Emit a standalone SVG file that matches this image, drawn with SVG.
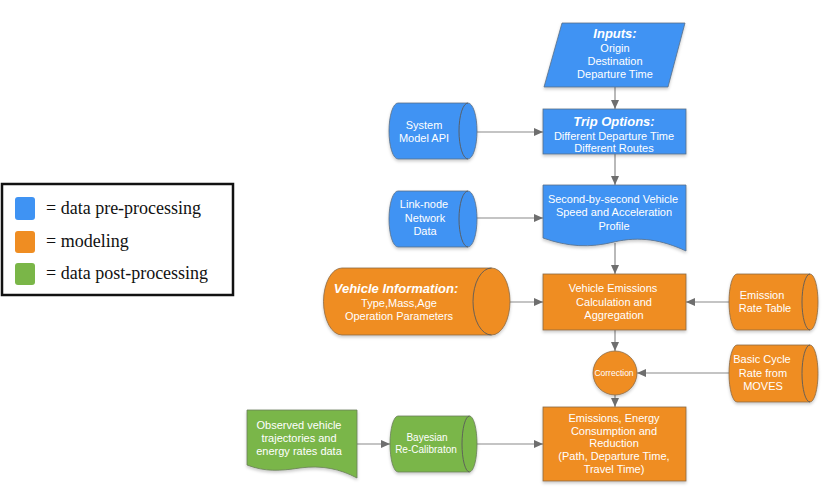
<svg xmlns="http://www.w3.org/2000/svg" width="840" height="503" viewBox="0 0 840 503">
<defs>
<style>
.blue{fill:#3f93f3;stroke:#5b6f85;stroke-width:0.8}
.orange{fill:#ef8d22;stroke:#8a6a45;stroke-width:0.8}
.green{fill:#7ab648;stroke:#6a7d5a;stroke-width:0.8}
.cap{fill:none;stroke:#5a5a5a;stroke-width:0.9}
.t{font-family:"Liberation Sans",Arial,sans-serif;font-size:11px;fill:#ffffff;text-anchor:middle}
.h{font-family:"Liberation Sans",Arial,sans-serif;font-size:13px;font-weight:bold;font-style:italic;fill:#ffffff;text-anchor:middle}
.s{font-size:10px}
.xs{font-size:8.5px}
.conn{stroke:#8a8a8a;stroke-width:1.2;fill:none;marker-end:url(#arr)}
.lg{font-family:"Liberation Serif","Times New Roman",serif;font-size:18px;fill:#111111}
</style>
<marker id="arr" markerUnits="userSpaceOnUse" markerWidth="9" markerHeight="8" refX="9" refY="4" orient="auto">
<path d="M0,0 L9,4 L0,8 Z" fill="#6e6e6e"/>
</marker>
<filter id="sh" x="-10%" y="-10%" width="120%" height="130%">
<feDropShadow dx="0" dy="2" stdDeviation="1.8" flood-color="#000000" flood-opacity="0.2"/>
</filter>
</defs>

<g id="legend">
<rect x="2" y="184" width="231" height="111" fill="#ffffff" stroke="#111111" stroke-width="2.5"/>
<rect x="15" y="197" width="20" height="23" rx="3" fill="#3f93f3"/>
<rect x="15" y="231" width="20" height="22" rx="3" fill="#ef8d22"/>
<rect x="15" y="263" width="20" height="22" rx="3" fill="#7ab648"/>
<text class="lg" x="46" y="214">= data pre-processing</text>
<text class="lg" x="46" y="247">= modeling</text>
<text class="lg" x="46" y="279">= data post-processing</text>
</g>

<g id="connectors">
<line class="conn" x1="615" y1="87" x2="615" y2="109"/>
<line class="conn" x1="615" y1="154" x2="615" y2="185"/>
<line class="conn" x1="477" y1="132" x2="543" y2="132"/>
<line class="conn" x1="477" y1="218" x2="543" y2="218"/>
<line class="conn" x1="615" y1="243" x2="615" y2="274"/>
<line class="conn" x1="510" y1="302" x2="543" y2="302"/>
<line class="conn" x1="729" y1="302" x2="686" y2="302"/>
<line class="conn" x1="615" y1="330" x2="615" y2="351"/>
<line class="conn" x1="729" y1="373" x2="637" y2="373"/>
<line class="conn" x1="615" y1="395" x2="615" y2="407"/>
<line class="conn" x1="357" y1="444" x2="390" y2="444"/>
<line class="conn" x1="477" y1="444" x2="543" y2="444"/>
</g>

<g id="inputs">
<polygon class="blue" filter="url(#sh)" points="562,23 685,23 668,87 544,87"/>
<text class="h" x="615" y="38">Inputs:</text>
<text class="t" x="615" y="52">Origin</text>
<text class="t" x="615" y="65">Destination</text>
<text class="t" x="615" y="78">Departure Time</text>
</g>

<g id="trip-options">
<rect class="blue" filter="url(#sh)" x="543" y="109" width="143" height="45"/>
<text class="h" x="614" y="126">Trip Options:</text>
<text class="t" x="614" y="140">Different Departure Time</text>
<text class="t" x="614" y="152">Different Routes</text>
</g>

<g id="system-model-api">
<path class="blue" filter="url(#sh)" d="M398,103 H468 A9,28 0 0 1 468,159 H398 A9,28 0 0 1 398,103 Z"/>
<path class="cap" d="M468,103 A9,28 0 0 0 468,159"/>
<text class="t" x="424" y="129">System</text>
<text class="t" x="424" y="142">Model API</text>
</g>

<g id="speed-profile">
<path class="blue" filter="url(#sh)" d="M543,185 H686 V251 C662,240 640,236 614,242 C590,248 568,247 543,238 Z"/>
<text class="t" x="613" y="203">Second-by-second Vehicle</text>
<text class="t" x="614" y="216">Speed and Acceleration</text>
<text class="t" x="614" y="230">Profile</text>
</g>

<g id="link-node">
<path class="blue" filter="url(#sh)" d="M398,191 H468 A9,28 0 0 1 468,247 H398 A9,28 0 0 1 398,191 Z"/>
<path class="cap" d="M468,191 A9,28 0 0 0 468,247"/>
<text class="t" x="424" y="208">Link-node</text>
<text class="t" x="425" y="222">Network</text>
<text class="t" x="425" y="235">Data</text>
</g>

<g id="vehicle-information">
<path class="orange" filter="url(#sh)" d="M342,268 H491.5 A18.5,33.5 0 0 1 491.5,335 H342 A18.5,33.5 0 0 1 342,268 Z"/>
<path class="cap" d="M491.5,268 A18.5,33.5 0 0 0 491.5,335"/>
<text class="h" x="396" y="293">Vehicle Information:</text>
<text class="t" x="399" y="307">Type,Mass,Age</text>
<text class="t" x="399" y="320">Operation Parameters</text>
</g>

<g id="vehicle-emissions">
<rect class="orange" filter="url(#sh)" x="543" y="274" width="143" height="56"/>
<text class="t" x="613" y="292">Vehicle Emissions</text>
<text class="t" x="614" y="306">Calculation and</text>
<text class="t" x="614" y="319">Aggregation</text>
</g>

<g id="emission-rate-table">
<path class="orange" filter="url(#sh)" d="M737,274 H810 A8,28 0 0 1 810,330 H737 A8,28 0 0 1 737,274 Z"/>
<path class="cap" d="M810,274 A8,28 0 0 0 810,330"/>
<text class="t" x="762" y="299">Emission</text>
<text class="t" x="765" y="312">Rate Table</text>
</g>

<g id="correction">
<circle class="orange" filter="url(#sh)" cx="615" cy="373" r="22"/>
<text class="t xs" x="614" y="376">Correction</text>
</g>

<g id="basic-cycle-rate">
<path class="orange" filter="url(#sh)" d="M737,345 H810 A8,28.5 0 0 1 810,402 H737 A8,28.5 0 0 1 737,345 Z"/>
<path class="cap" d="M810,345 A8,28.5 0 0 0 810,402"/>
<text class="t" x="762" y="363">Basic Cycle</text>
<text class="t" x="763" y="377">Rate from</text>
<text class="t" x="763" y="390">MOVES</text>
</g>

<g id="emissions-energy">
<rect class="orange" filter="url(#sh)" x="543" y="407" width="143" height="74"/>
<text class="t" x="614" y="422">Emissions, Energy</text>
<text class="t" x="614" y="435">Consumption and</text>
<text class="t" x="614" y="447">Reduction</text>
<text class="t" x="614" y="460">(Path, Departure Time,</text>
<text class="t" x="614" y="473">Travel Time)</text>
</g>

<g id="observed-data">
<path class="green" filter="url(#sh)" d="M247,410 H357 V478 C340,469 322,465 300,468 C280,471 265,472 247,465 Z"/>
<text class="t" x="299" y="429">Observed vehicle</text>
<text class="t" x="299" y="442">trajectories and</text>
<text class="t" x="299" y="455">energy rates data</text>
</g>

<g id="bayesian">
<path class="green" filter="url(#sh)" d="M398,416 H469.5 A7.5,28 0 0 1 469.5,472 H398 A8,28 0 0 1 398,416 Z"/>
<path class="cap" d="M469.5,416 A7.5,28 0 0 0 469.5,472"/>
<text class="t s" x="427" y="441">Bayesian</text>
<text class="t s" x="426" y="453">Re-Calibraton</text>
</g>
</svg>
